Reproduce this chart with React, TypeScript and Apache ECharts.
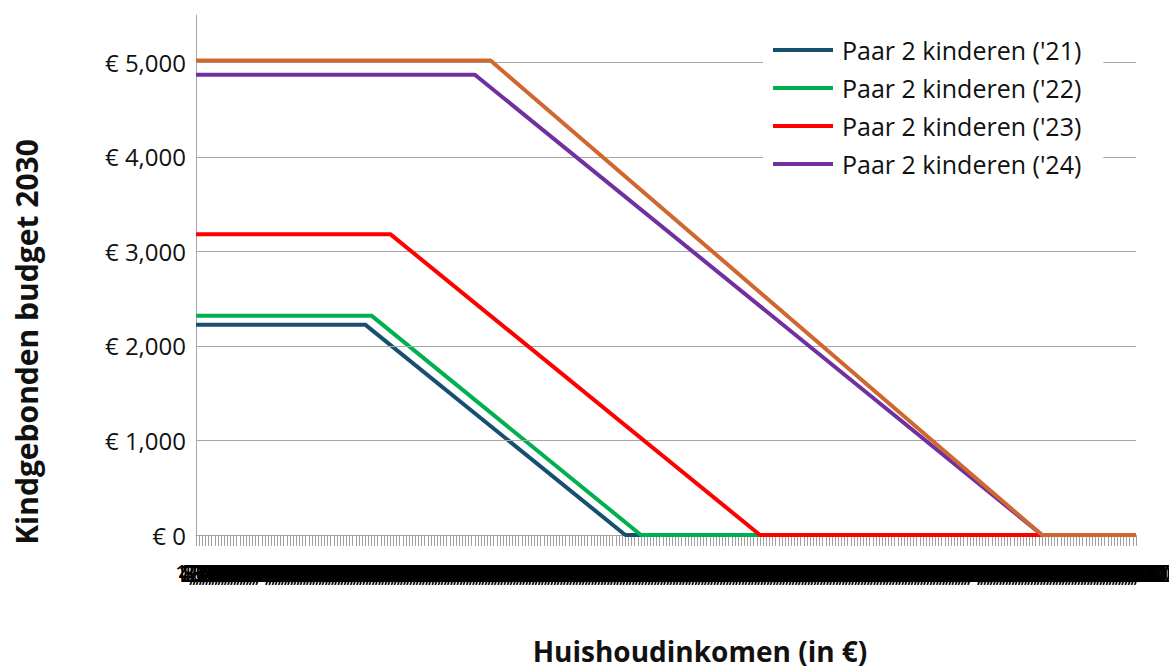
import React, { useEffect, useRef } from "react";
import * as echarts from "echarts";

// X-axis categories: household income (€), one category every € 400
const incomeStep = 400;
const incomeMax = 120000;
const incomeCategories: string[] = Array.from(
  { length: incomeMax / incomeStep + 1 },
  (_, i) => String(i * incomeStep)
);

// Series breakpoints: [income, budget]
const paar21: [number, number][] = [[0, 2225], [21600, 2225], [54800, 0], [120000, 0]];
const paar22: [number, number][] = [[0, 2320], [22400, 2320], [56800, 0], [120000, 0]];
const paar23: [number, number][] = [[0, 3182], [24800, 3182], [72000, 0], [120000, 0]];
const paar24: [number, number][] = [[0, 4868], [35600, 4868], [108000, 0], [120000, 0]];
const paar25: [number, number][] = [[0, 5018], [37600, 5018], [108000, 0], [120000, 0]];

const seriesNames = [
  "Paar 2 kinderen ('21)",
  "Paar 2 kinderen ('22)",
  "Paar 2 kinderen ('23)",
  "Paar 2 kinderen ('24)",
  "Paar 2 kinderen ('25)",
];
const seriesData = [paar21, paar22, paar23, paar24, paar25];
const seriesColors = ["#17506f", "#00b050", "#ff0000", "#7030a0", "#d0672f"];
const legendNames = seriesNames.slice(0, 4);

const yTicks = [1000, 2000, 3000, 4000, 5000];

const FONT = "'Open Sans', 'Noto Sans', sans-serif";

export default function App() {
  const ref = useRef<HTMLDivElement>(null);
  useEffect(() => {
    document.body.style.margin = "0";
    document.body.style.overflow = "hidden";
    if (!ref.current) return;
    const chart = echarts.init(ref.current, undefined, { renderer: "svg" });
    const series: any[] = seriesData.map((d, i) => ({
      name: seriesNames[i],
      type: "line",
      data: d.map(([x, y]) => [String(x), y]),
      symbol: "none",
      lineStyle: { color: seriesColors[i], width: 4 },
      itemStyle: { color: seriesColors[i] },
      z: 3 + i,
    }));
    // gridlines via markLine (no line at the top of the axis)
    series.push({
      name: "grid",
      type: "line",
      data: [],
      silent: true,
      z: 1,
      markLine: {
        silent: true,
        symbol: "none",
        label: { show: false },
        lineStyle: { color: "#a6a6a6", width: 1, type: "solid" },
        data: yTicks.map((v) => ({ yAxis: v })),
      },
    });
    chart.setOption({
      animation: false,
      backgroundColor: "#fff",
      textStyle: { fontFamily: FONT },
      grid: {
        left: 196,
        right: 33,
        top: 15,
        bottom: 131,
        containLabel: false,
        outerBoundsMode: "none",
      },
      legend: {
        data: legendNames,
        orient: "vertical",
        left: 763,
        top: 31,
        backgroundColor: "#fff",
        padding: [6, 22, 6, 10],
        itemWidth: 60,
        itemHeight: 4,
        itemGap: 12,
        icon: "rect",
        textStyle: {
          fontSize: 25,
          lineHeight: 26,
          color: "#111",
          fontFamily: FONT,
          padding: [0, 0, 0, 4],
        },
        z: 10,
      },
      xAxis: {
        type: "category",
        data: incomeCategories,
        boundaryGap: false,
        axisLine: { lineStyle: { color: "#a6a6a6", width: 1 } },
        axisTick: {
          show: true,
          interval: 0,
          length: 11,
          lineStyle: { color: "#a0a0a0", width: 1 },
        },
        axisLabel: {
          interval: 0,
          fontSize: 24,
          color: "#000",
          margin: 25,
          fontFamily: FONT,
          hideOverlap: false,
          formatter: (v: string) => Number(v).toLocaleString("en-US"),
        },
        splitLine: { show: false },
      },
      yAxis: {
        type: "value",
        min: 0,
        max: 5500,
        interval: 1000,
        axisLine: { show: true, lineStyle: { color: "#a6a6a6", width: 1 } },
        axisTick: { show: false },
        splitLine: { show: false },
        axisLabel: {
          fontSize: 24,
          color: "#111",
          margin: 10,
          fontFamily: FONT,
          showMaxLabel: false,
          formatter: (v: number) =>
            v % 1000 === 0 ? "€ " + v.toLocaleString("en-US") : "",
        },
      },
      graphic: [
        {
          type: "text",
          x: 26,
          y: 342,
          rotation: Math.PI / 2,
          style: {
            text: "Kindgebonden budget 2030",
            font: `bold 30px ${FONT}`,
            fill: "#111",
            align: "center",
            verticalAlign: "middle",
          },
        },
        {
          type: "text",
          x: 700,
          y: 651,
          style: {
            text: "Huishoudinkomen (in €)",
            font: `bold 28px ${FONT}`,
            fill: "#111",
            align: "center",
            verticalAlign: "middle",
          },
        },
      ],
      series,
    });
    return () => chart.dispose();
  }, []);
  return <div ref={ref} style={{ width: 1169, height: 666 }} />;
}
